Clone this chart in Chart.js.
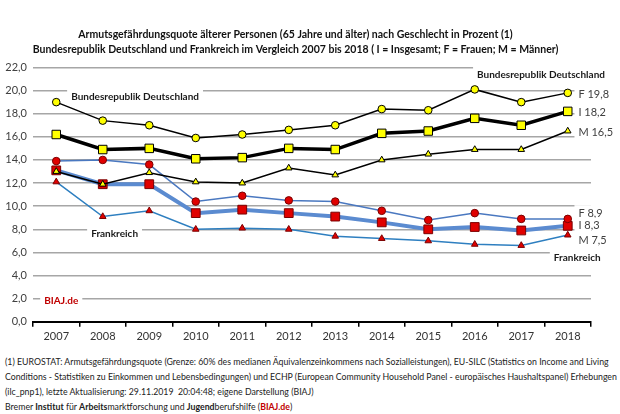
<!DOCTYPE html>
<html>
<head>
<meta charset="utf-8">
<script src="https://cdn.jsdelivr.net/npm/chart.js@4.4.1/dist/chart.umd.min.js"></script>
<style>
body { margin: 0; background: #fff; width: 620px; height: 414px; overflow: hidden; font-family: Lato, sans-serif; }
#wrap { position: absolute; left: 0; top: 0; width: 620px; height: 346px; }
#notes { position: absolute; left: 5px; top: 354px; width: 614px; font-size: 8.75px; line-height: 15px; color: #222; white-space: nowrap; }
#notes b.red { color: #c00000; }
</style>
</head>
<body>
<div id="wrap"><canvas id="armut_chart"></canvas></div>
<div id="notes">
(1) EUROSTAT: Armutsgefährdungsquote (Grenze: 60% des medianen Äquivalenzeinkommens nach Sozialleistungen), EU-SILC (Statistics on Income and Living<br>
Conditions - Statistiken zu Einkommen und Lebensbedingungen) und ECHP (European Community Household Panel - europäisches Haushaltspanel) Erhebungen<br>
(ilc_pnp1), letzte Aktualisierung: 29.11.2019&nbsp; 20:04:48; eigene Darstellung (BIAJ)<br>
Bremer <b>Institut</b> für <b>Arbeits</b>marktforschung und <b>Jugend</b>berufshilfe (<b class="red">BIAJ.de</b>)
</div>
<script>
var years = ["2007", "2008", "2009", "2010", "2011", "2012", "2013", "2014", "2015", "2016", "2017", "2018"];

// Deutschland
var deFrauen = [19.0, 17.4, 17.0, 15.9, 16.2, 16.6, 17.0, 18.4, 18.3, 20.1, 19.0, 19.8];
var deGesamt = [16.2, 14.9, 15.0, 14.1, 14.2, 15.0, 14.9, 16.3, 16.5, 17.6, 17.0, 18.2];
var deMaenner = [13.0, 11.9, 12.9, 12.1, 12.0, 13.3, 12.7, 14.0, 14.5, 14.9, 14.9, 16.5];

// Frankreich
var frFrauen = [13.9, 14.0, 13.6, 10.4, 10.9, 10.5, 10.4, 9.6, 8.8, 9.4, 8.9, 8.9];
var frGesamt = [13.1, 11.9, 11.9, 9.4, 9.7, 9.4, 9.1, 8.6, 8.0, 8.2, 7.9, 8.3];
var frMaenner = [12.1, 9.1, 9.6, 8.0, 8.1, 8.0, 7.4, 7.2, 7.0, 6.7, 6.6, 7.5];

function fmt(v) {
    return v.toFixed(1).replace(".", ",");
}
function last(arr) {
    return arr[arr.length - 1];
}

// text notes inside the plot (x = category index, y = value)
var notes = [
    { text: "Bundesrepublik Deutschland", x: 0.32, y: 19.5, bold: true, color: "#1a1a1a" },
    { text: "Bundesrepublik Deutschland", x: 9.05, y: 21.4, bold: true, color: "#1a1a1a" },
    { text: "Frankreich", x: 0.75, y: 7.65, bold: true, color: "#1a1a1a" },
    { text: "Frankreich", x: 10.7, y: 5.55, bold: true, color: "#1a1a1a" },
    { text: "BIAJ.de", x: -0.26, y: 1.83, bold: true, color: "#c00000" },
    { text: "F " + fmt(last(deFrauen)), x: 11.23, y: last(deFrauen) - 0.1, color: "#404040" },
    { text: "I " + fmt(last(deGesamt)), x: 11.23, y: last(deGesamt) - 0.1, color: "#404040" },
    { text: "M " + fmt(last(deMaenner)), x: 11.23, y: last(deMaenner) - 0.1, color: "#404040" },
    { text: "F " + fmt(last(frFrauen)), x: 11.23, y: last(frFrauen) + 0.5, color: "#404040" },
    { text: "I " + fmt(last(frGesamt)), x: 11.23, y: last(frGesamt), color: "#404040" },
    { text: "M " + fmt(last(frMaenner)), x: 11.23, y: last(frMaenner) - 0.5, color: "#404040" }
];

var notesPlugin = {
    id: "notes",
    beforeDatasetsDraw: function(chart) {
        var ctx = chart.ctx;
        var xs = chart.scales.x, ys = chart.scales.y;
        ctx.save();
        ctx.textBaseline = "middle";
        ctx.textAlign = "left";
        notes.forEach(function(n) {
            ctx.font = (n.bold ? "bold 10px" : "11px") + " Lato";
            var px = xs.getPixelForValue(n.x);
            var py = ys.getPixelForValue(n.y);
            var w = ctx.measureText(n.text).width;
            ctx.fillStyle = "#fff";
            ctx.fillRect(px - 4, py - 8, w + 8, 16);
            ctx.fillStyle = n.color;
            ctx.fillText(n.text, px, py);
        });
        ctx.restore();
    }
};

function serie(label, data, line, width, style, radius, fill, border) {
    return {
        label: label,
        data: data,
        borderColor: line,
        borderWidth: width,
        pointStyle: style,
        pointRadius: radius,
        pointBackgroundColor: fill,
        pointBorderColor: border,
        pointBorderWidth: 1,
        tension: 0,
        fill: false
    };
}

new Chart("armut_chart", {
    type: "line",
    data: {
        labels: years,
        datasets: [
            serie("D Frauen", deFrauen, "#000", 1.5, "circle", 3.8, "#ffff00", "#000"),
            serie("D Insgesamt", deGesamt, "#000", 3.5, "rect", 6, "#ffff00", "#000"),
            serie("D Männer", deMaenner, "#000", 1.5, "triangle", 3.8, "#ffff00", "#000"),
            serie("F Frauen", frFrauen, "#4a78c0", 1.5, "circle", 3.8, "#e00000", "#7a0000"),
            serie("F Insgesamt", frGesamt, "#5b8bd0", 4, "rect", 6.2, "#e00000", "#7a0000"),
            serie("F Männer", frMaenner, "#2e7fc0", 1.5, "triangle", 3.8, "#e00000", "#7a0000")
        ]
    },
    plugins: [notesPlugin],
    options: {
        responsive: true,
        maintainAspectRatio: false,
        animation: false,
        layout: {
            padding: { left: 0, right: 29, top: 2, bottom: 0 }
        },
        plugins: {
            legend: { display: false },
            tooltip: { enabled: false },
            title: {
                display: true,
                text: [
                    "Armutsgefährdungsquote älterer Personen (65 Jahre und älter) nach Geschlecht in Prozent (1)",
                    "Bundesrepublik Deutschland und Frankreich im Vergleich 2007 bis 2018 ( I = Insgesamt; F = Frauen; M = Männer)"
                ],
                color: "#111",
                font: { family: "Lato", size: 10.5, weight: "bold", lineHeight: 1.45 },
                padding: { top: 25, bottom: 10 }
            }
        },
        scales: {
            x: {
                offset: true,
                grid: {
                    offset: true,
                    drawOnChartArea: false,
                    color: "#000",
                    lineWidth: 1.5,
                    tickLength: 5
                },
                border: { color: "#000", width: 2 },
                ticks: {
                    color: "#333",
                    padding: 3,
                    font: { family: "Lato", size: 11 }
                }
            },
            y: {
                min: 0,
                max: 22,
                afterFit: function(scale) {
                    scale.width = 33;
                },
                ticks: {
                    stepSize: 2,
                    color: "#404040",
                    padding: 6,
                    font: { family: "Lato", size: 11 },
                    callback: function(v) {
                        return fmt(v);
                    }
                },
                grid: {
                    color: "#a6a6a6",
                    lineWidth: 1.5,
                    drawTicks: false
                },
                border: { display: false }
            }
        }
    }
});
</script>
</body>
</html>
